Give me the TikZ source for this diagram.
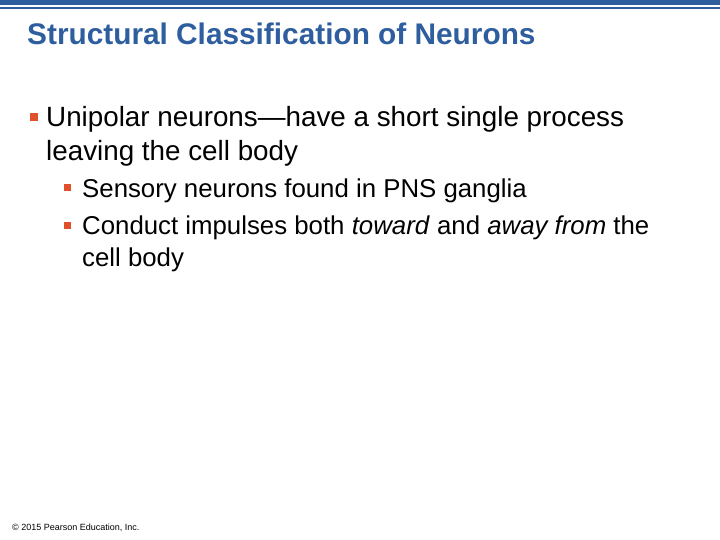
\documentclass[tikz,border=0pt]{standalone}
\usepackage{fontspec}
\setmainfont{Liberation Sans}
\definecolor{pblue}{HTML}{2E5E9E}
\definecolor{bul}{HTML}{E0502A}
\begin{document}
\begin{tikzpicture}[x=1pt,y=-1pt,
  txt/.style={anchor=base west,inner sep=0pt,text=black},
  bx/.style={fill=bul,draw=none}]
\useasboundingbox (0,0) rectangle (720,540);
\fill[pblue] (0,0) rectangle (720,5);
\fill[pblue] (0,7) rectangle (720,9.5);
\node[txt,text=pblue,font=\bfseries\fontsize{29.8}{34}\selectfont] (title) at (27,45) {Structural Classification of Neurons};
\fill[bul] (30,113) rectangle (38,121);
\node[txt,font=\fontsize{27.8}{32}\selectfont] (l1) at (46,127) {Unipolar neurons—have a short single process};
\node[txt,font=\fontsize{27.8}{32}\selectfont] (l2) at (46,161) {leaving the cell body};
\fill[bul] (64,184) rectangle (71,191);
\node[txt,font=\fontsize{25.8}{30}\selectfont] (l3) at (82,197) {Sensory neurons found in PNS ganglia};
\fill[bul] (64,222) rectangle (71,229);
\node[txt,font=\fontsize{25.8}{30}\selectfont] (l4) at (82,235) {Conduct impulses both \textit{toward} and \textit{away from} the};
\node[txt,font=\fontsize{25.8}{30}\selectfont] (l5) at (82,266) {cell body};
\node[txt,font=\fontsize{9}{10}\selectfont] (foot) at (12,530) {© 2015 Pearson Education, Inc.};
\end{tikzpicture}
\end{document}
